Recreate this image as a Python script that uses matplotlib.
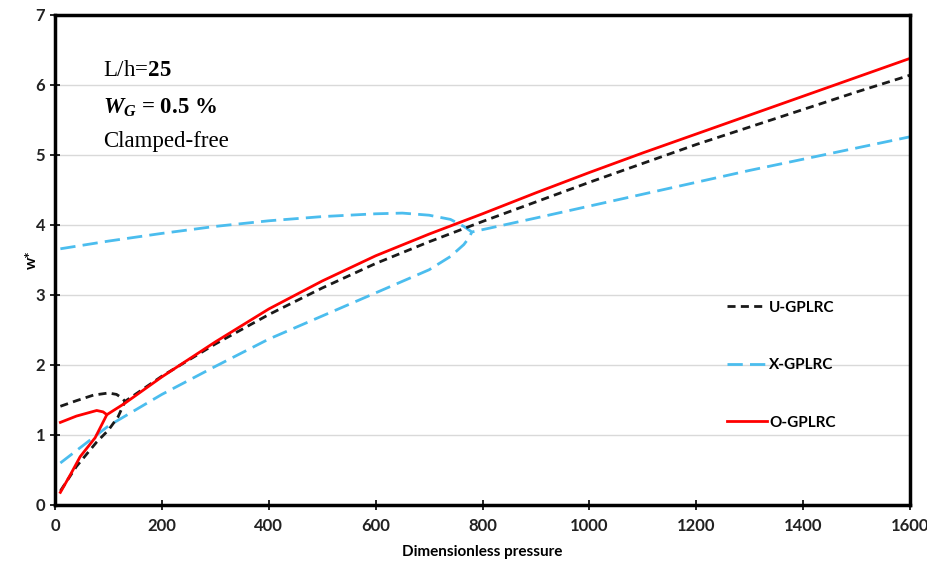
import numpy as np
import matplotlib.pyplot as plt
from matplotlib.lines import Line2D

# U-GPLRC (black dashed): upper + main branch, lower branch
u_up_x = [10, 40, 72, 100, 115, 125, 131, 200, 300, 400, 500, 600, 700, 800, 900, 1000, 1100, 1200, 1300, 1400, 1500, 1600]
u_up_w = [1.41, 1.49, 1.57, 1.60, 1.58, 1.53, 1.48, 1.84, 2.30, 2.72, 3.10, 3.45, 3.76, 4.05, 4.33, 4.61, 4.88, 5.15, 5.40, 5.65, 5.90, 6.14]
u_lo_x = [10, 40, 78, 100, 118, 131]
u_lo_w = [0.20, 0.55, 0.90, 1.07, 1.26, 1.48]

# X-GPLRC (light blue long dash)
x_up_x = [10, 100, 200, 300, 400, 500, 600, 650, 700, 740, 765, 780, 900, 1000, 1100, 1200, 1300, 1400, 1500, 1600]
x_up_w = [3.66, 3.77, 3.88, 3.98, 4.06, 4.12, 4.16, 4.17, 4.14, 4.08, 3.98, 3.90, 4.10, 4.27, 4.44, 4.61, 4.78, 4.94, 5.10, 5.26]
x_lo_x = [10, 100, 200, 300, 400, 500, 600, 700, 740, 765, 775, 780]
x_lo_w = [0.60, 1.13, 1.58, 1.98, 2.37, 2.70, 3.03, 3.36, 3.55, 3.72, 3.82, 3.90]

# O-GPLRC (red solid)
o_up_x = [10, 40, 78, 90, 97, 130, 200, 300, 400, 500, 600, 700, 800, 900, 1000, 1100, 1200, 1300, 1400, 1500, 1600]
o_up_w = [1.18, 1.27, 1.35, 1.33, 1.29, 1.45, 1.83, 2.33, 2.80, 3.20, 3.56, 3.87, 4.16, 4.46, 4.75, 5.03, 5.30, 5.57, 5.84, 6.11, 6.38]
o_lo_x = [10, 30, 47, 75, 97]
o_lo_w = [0.18, 0.45, 0.69, 0.96, 1.29]

sans = ['Lato', 'DejaVu Sans']
serif = ['Liberation Serif', 'DejaVu Serif']
plt.rcParams['mathtext.fontset'] = 'custom'
plt.rcParams['mathtext.rm'] = 'Liberation Serif'
plt.rcParams['mathtext.bf'] = 'Liberation Serif:bold'
plt.rcParams['mathtext.it'] = 'Liberation Serif:italic:bold'

fig = plt.figure(figsize=(9.28, 5.66), dpi=100)
ax = fig.add_axes([0.0593, 0.1078, 0.9213, 0.8657])

blk = dict(color='#1a1a1a', lw=2.0, dashes=(2.9, 1.9))
blu = dict(color='#4BBDEE', lw=2.0, dashes=(5.5, 2.6))
red = dict(color='#FF0000', lw=2.0)

ax.plot(x_up_x, x_up_w, **blu)
ax.plot(x_lo_x, x_lo_w, **blu)
ax.plot(u_up_x, u_up_w, **blk)
ax.plot(u_lo_x, u_lo_w, **blk)
ax.plot(o_up_x, o_up_w, **red)
ax.plot(o_lo_x, o_lo_w, **red)

ax.set_xlim(0, 1600)
ax.set_ylim(0, 7)
ax.set_xticks(np.arange(0, 1601, 200))
ax.set_yticks(np.arange(0, 8, 1))
ax.grid(axis='y', color='#d9d9d9', lw=1.0)
ax.set_axisbelow(True)
for s in ax.spines.values():
    s.set_linewidth(2.5)
    s.set_color('black')
ax.tick_params(direction='inout', length=7, width=1.2, labelsize=12)
for lab in ax.get_xticklabels() + ax.get_yticklabels():
    lab.set_family(sans)
    lab.set_fontweight('bold')
    lab.set_color('#222222')
ax.tick_params(axis='x', pad=6)

ax.set_xlabel('Dimensionless pressure', family=sans, fontweight='bold', fontsize=11, labelpad=8)
ax.set_ylabel('w*', family=sans, fontweight='bold', fontsize=11, labelpad=-2)

ax.text(90, 6.21, r'L/h=$\mathbf{25}$', family=serif, fontsize=16.5, va='center')
ax.text(90, 5.68, r'$W_G$ = 0.5 %', family=serif, fontsize=16.5, fontweight='bold', va='center')
ax.text(90, 5.19, 'Clamped-free', family=serif, fontsize=16.5, va='center')

handles = [Line2D([], [], **blk), Line2D([], [], **blu), Line2D([], [], **red)]
leg = ax.legend(handles, ['U-GPLRC', 'X-GPLRC', 'O-GPLRC'], loc='upper left',
                bbox_to_anchor=(0.770, 0.445), frameon=False, handlelength=2.6,
                handletextpad=0.15, labelspacing=2.85,
                prop={'family': sans, 'weight': 'bold', 'size': 11})

fig.savefig('out.png', dpi=100)
